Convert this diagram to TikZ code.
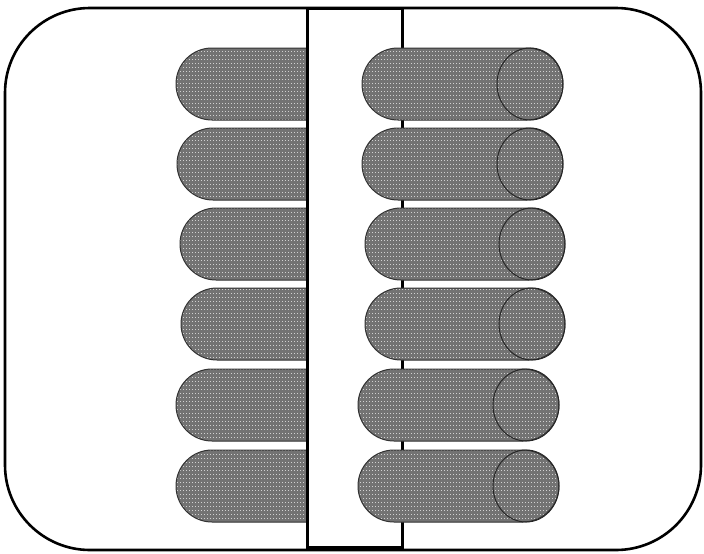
\documentclass[tikz,border=0pt]{standalone}
\usetikzlibrary{patterns.meta}
\tikzdeclarepattern{
  name=capdots,
  type=uncolored,
  bottom left={(0pt,0pt)},
  top right={(3pt,3.5pt)},
  tile size={(3pt,3.5pt)},
  code={\pgfpathrectangle{\pgfpointorigin}{\pgfqpoint{1pt}{1pt}}\pgfusepath{fill}}
}
\begin{document}
\begin{tikzpicture}[x=1pt,y=-1pt,
  capsule/.style={draw=black!80, line width=1pt, rounded corners=36pt,
    preaction={fill=black!55}, pattern=capdots, pattern color=black!18},
  capend/.style={draw=black!85, line width=1pt},
  frame/.style={draw=black, line width=2.6pt},
  bar/.style={draw=black, line width=3pt, fill=white}]
\useasboundingbox (0,0) rectangle (704,554);
% outer frame
\draw[frame, rounded corners=85pt] (5,8) rectangle (701,550);
% left capsules
\foreach \y/\x in {48/176,128/177,208/180,288/181,369/176,450/176}{
  \path[capsule] (\x,\y) rectangle (390,\y+72);
}
% vertical bar
\draw[bar] (307,8) rectangle (402,547);
% right capsules
\foreach \y/\xa/\xb in {48/362/563,128/362/563,208/365/565,288/365/565,369/358/559,450/358/559}{
  \path[capsule] (\xa,\y) rectangle (\xb,\y+72);
  \draw[capend] (\xb-33,\y+36) ellipse [x radius=33pt, y radius=36pt];
}
\end{tikzpicture}
\end{document}
